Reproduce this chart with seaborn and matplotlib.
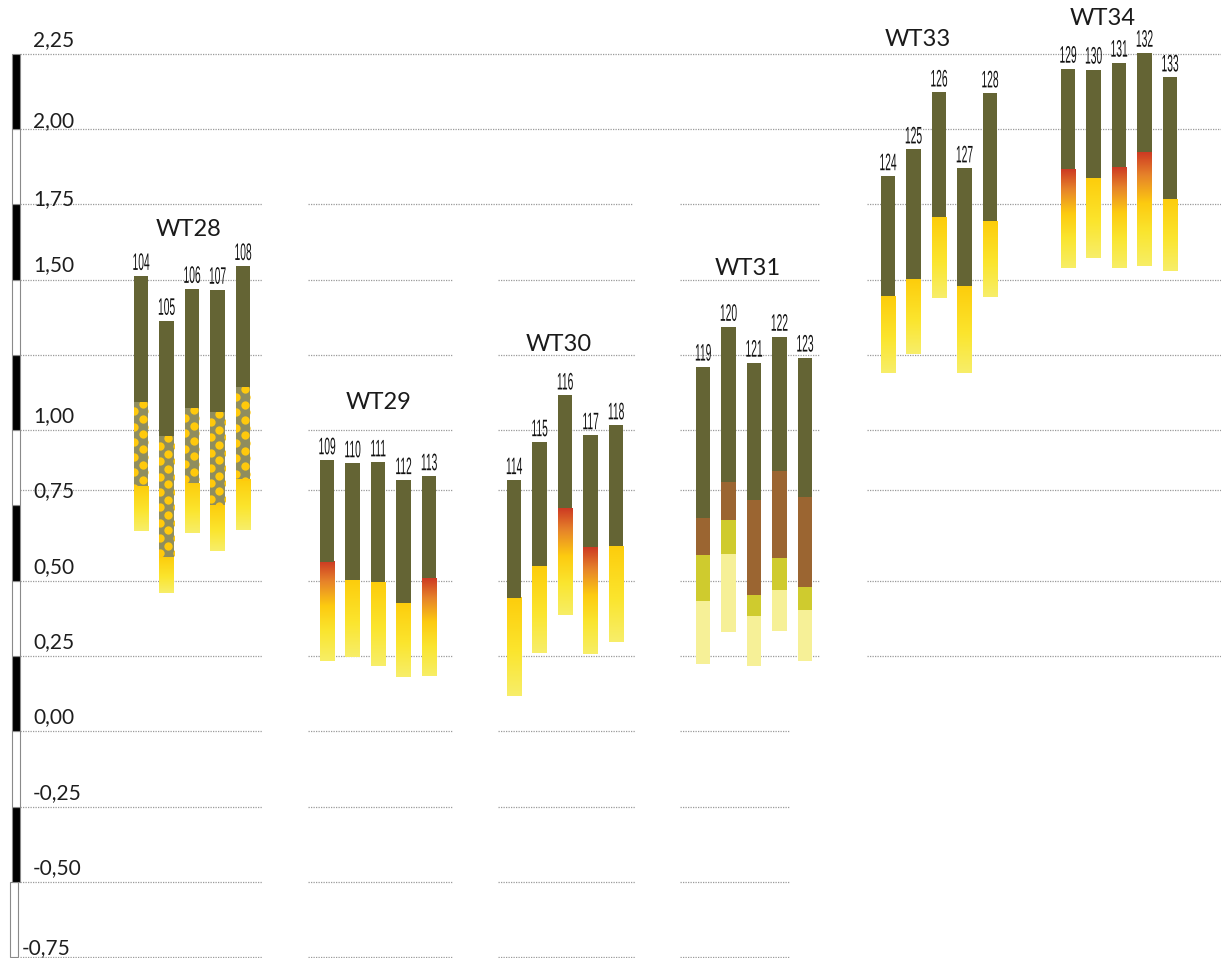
import numpy as np
import pandas as pd
import matplotlib
matplotlib.use("Agg")
import matplotlib.pyplot as plt
import seaborn as sns
from matplotlib.colors import LinearSegmentedColormap
from matplotlib.patheffects import AbstractPathEffect
from matplotlib.transforms import Affine2D

# ---------------- data ----------------
groups = ["WT28", "WT29", "WT30", "WT31", "WT33", "WT34"]
well_ids = [
    [104, 105, 106, 107, 108],
    [109, 110, 111, 112, 113],
    [114, 115, 116, 117, 118],
    [119, 120, 121, 122, 123],
    [124, 125, 126, 127, 128],
    [129, 130, 131, 132, 133],
]
# top of each column
top_level = [
    [1.512, 1.363, 1.469, 1.466, 1.545],
    [0.900, 0.890, 0.893, 0.834, 0.847],
    [0.834, 0.960, 1.115, 0.983, 1.016],
    [1.211, 1.343, 1.224, 1.310, 1.241],
    [1.843, 1.932, 2.121, 1.869, 2.118],
    [2.200, 2.197, 2.220, 2.253, 2.171],
]
# lower boundary of the dark upper layer
upper_base = [
    [1.095, 0.979, 1.072, 1.059, 1.142],
    [0.563, 0.503, 0.496, 0.427, 0.510],
    [0.443, 0.549, 0.741, 0.612, 0.615],
    [0.708, 0.827, 0.768, 0.864, 0.778],
    [1.446, 1.502, 1.707, 1.479, 1.694],
    [1.866, 1.836, 1.873, 1.923, 1.767],
]
# bottom of each column
bottom_level = [
    [0.665, 0.460, 0.659, 0.599, 0.668],
    [0.232, 0.248, 0.218, 0.179, 0.185],
    [0.116, 0.261, 0.387, 0.258, 0.298],
    [0.222, 0.331, 0.218, 0.334, 0.235],
    [1.191, 1.254, 1.439, 1.191, 1.443],
    [1.539, 1.572, 1.539, 1.545, 1.529],
]
# WT28: base of the mottled layer
mottled_base = [0.814, 0.579, 0.824, 0.751, 0.834]
# WT31: bases of the brown and green layers
brown_base = [0.586, 0.702, 0.453, 0.576, 0.480]
green_base = [0.433, 0.589, 0.384, 0.470, 0.404]
# colour ramp of the lower layer (WT29, WT30, WT33, WT34)
fade_style = {
    "WT29": ["red", "yellow", "yellow", "yellow", "red"],
    "WT30": ["yellow", "yellow", "red", "red", "yellow"],
    "WT33": ["yellow", "yellow", "yellow", "yellow", "yellow"],
    "WT34": ["red", "yellow", "red", "red", "yellow"],
}
tick_values = [2.25, 2.00, 1.75, 1.50, 1.00, 0.75, 0.50, 0.25, 0.00, -0.25, -0.50, -0.75]

# ---------------- layout / style ----------------
W, H = 1221, 958
Y_LO, Y_HI = -0.7525, 2.428
PX = H / (Y_HI - Y_LO)          # pixels per unit
GROUP_X = [192, 378, 565, 754, 939, 1119]
BAR_STEP = 25.5
BAR_W = 14.5
TITLE_POS = [(189, 1.666), (379, 1.092), (559, 1.284), (748, 1.537), (918, 2.298), (1103, 2.366)]

OLIVE = "#646434"
MOTTLE_BG = "#8f8d5e"
MOTTLE_DOT = "#ffc90c"
BROWN = "#9b6531"
GREEN = "#cfcb2e"
PALE = "#f6f097"
GRID = "#9a9a9a"

yellow_ramp = LinearSegmentedColormap.from_list(
    "yellow_ramp", [(0.0, "#f7ee6a"), (0.45, "#fbe52e"), (1.0, "#fdcd0c")])
red_ramp = LinearSegmentedColormap.from_list(
    "red_ramp", [(0.0, "#f7ee66"), (0.3, "#fae52f"), (0.55, "#fdcb10"),
                 (0.8, "#e6822a"), (1.0, "#cd3a23")])
ramps = {"yellow": yellow_ramp, "red": red_ramp}


class Reshape(AbstractPathEffect):
    """Narrow and heighten glyphs: x about the string centre, y about the baseline."""

    def __init__(self, sx, sy):
        super().__init__()
        self.sx, self.sy = sx, sy

    def draw_path(self, renderer, gc, tpath, affine, rgbFace=None):
        ext = tpath.get_extents(affine)
        cx = 0.5 * (ext.x0 + ext.x1)
        _, by = affine.transform((0, 0))
        shaped = affine + Affine2D().translate(-cx, -by).scale(self.sx, self.sy).translate(cx, by)
        renderer.draw_path(gc, tpath, shaped, rgbFace)


sns.set_theme(style="white")
plt.rcParams["font.family"] = ["Lato", "DejaVu Sans"]

fig = plt.figure(figsize=(W / 100, H / 100), dpi=100)
ax = fig.add_axes([0, 0, 1, 1])

# ---------------- table of columns ----------------
rows = []
for g, name in enumerate(groups):
    for i, wid in enumerate(well_ids[g]):
        rows.append(dict(group=name, gi=g, idx=i, well=wid,
                         x=GROUP_X[g] + (i - 2) * BAR_STEP,
                         top=top_level[g][i], upper_base=upper_base[g][i],
                         bottom=bottom_level[g][i]))
df = pd.DataFrame(rows).sort_values("x").reset_index(drop=True)
df["upper_h"] = df["top"] - df["upper_base"]

# dark upper layer of every column
sns.barplot(data=df, x="x", y="upper_h", native_scale=True,
            width=BAR_W / BAR_STEP, color=OLIVE, saturation=1, errorbar=None,
            bottom=df["upper_base"].to_numpy(), linewidth=0, zorder=3, ax=ax)

grad = np.linspace(0, 1, 256).reshape(-1, 1)


def ramp_segment(x, lo, hi, cmap):
    ax.imshow(grad, extent=(x - BAR_W / 2, x + BAR_W / 2, lo, hi), origin="lower",
              aspect="auto", cmap=cmap, interpolation="bilinear", zorder=2)


dot_dx = 8.7
dot_dy = 15.3 / PX
for _, r in df.iterrows():
    x = r["x"]
    if r["group"] == "WT28":
        mb = mottled_base[r["idx"]]
        cont = ax.bar(x, r["upper_base"] - mb, bottom=mb, width=BAR_W,
                      color=MOTTLE_BG, linewidth=0, zorder=2)
        rect = cont.patches[0]
        xs, ys = [], []
        left = x - BAR_W / 2
        for k in range(3):
            cx = left + 0.5 + k * dot_dx
            start = r["upper_base"] - (9.7 if k % 2 == 0 else 2.0) / PX
            yy = start
            while yy > mb - 5 / PX:
                xs.append(cx)
                ys.append(yy)
                yy -= dot_dy
        sc = ax.scatter(xs, ys, s=36, color=MOTTLE_DOT, linewidths=0, zorder=2.5)
        sc.set_clip_path(rect)
        ramp_segment(x, r["bottom"], mb, yellow_ramp)
    elif r["group"] == "WT31":
        i = r["idx"]
        ax.bar(x, r["upper_base"] - brown_base[i], bottom=brown_base[i], width=BAR_W,
               color=BROWN, linewidth=0, zorder=2)
        ax.bar(x, brown_base[i] - green_base[i], bottom=green_base[i], width=BAR_W,
               color=GREEN, linewidth=0, zorder=2)
        ax.bar(x, green_base[i] - r["bottom"], bottom=r["bottom"], width=BAR_W,
               color=PALE, linewidth=0, zorder=2)
    else:
        style = fade_style[r["group"]][r["idx"]]
        ramp_segment(x, r["bottom"], r["upper_base"], ramps[style])

    # well number above each column, set in a tall narrow cut
    ax.text(x, r["top"] + 6 / PX, str(r["well"]), ha="center", va="baseline",
            fontsize=10, family=["Liberation Sans", "DejaVu Sans"], color="#111111",
            path_effects=[Reshape(0.74, 1.72)], zorder=5)

# group titles
for name, (tx, ty) in zip(groups, TITLE_POS):
    ax.text(tx, ty, name, ha="center", va="center", fontsize=17, color="#1a1a1a")

# dotted reference lines, broken between groups
full = [(20, 1221)]
split = [(20, 262), (308, 452), (498, 635), (680, 820), (867, 1221)]
low = [(20, 262), (308, 452), (498, 635), (680, 790)]
grid_rows = [
    (2.25, full), (2.00, full),
    (1.75, [(20, 262), (308, 633), (680, 820), (867, 1221)]),
    (1.50, split), (1.25, split), (1.00, split), (0.80, split), (0.50, split),
    (0.25, split), (0.00, low), (-0.25, low), (-0.50, low), (-0.75, low),
]
for val, segs in grid_rows:
    for x0, x1 in segs:
        ax.plot([x0, x1], [val, val], color=GRID, lw=0.9, ls=(0, (1, 1)), zorder=1)

# value labels
label_shift = {2.00: 2, 1.75: -1, -0.75: 3}
for v in tick_values:
    dy = label_shift.get(v, 8)
    lx = 22 if v == -0.75 else 33
    ax.text(lx, v + dy / PX, f"{v:.2f}".replace(".", ","), ha="left", va="baseline",
            fontsize=15, color="#1e1e1e")

# alternating scale bar
for k in range(12):
    lo = -0.75 + 0.25 * k
    cx = 14 if k == 0 else 16
    ax.bar(cx, 0.25, bottom=lo, width=7.5, color="black" if k % 2 else "white",
           edgecolor="#8a8a8a", linewidth=0.8, zorder=2)

ax.set_xlim(0, W)
ax.set_ylim(Y_LO, Y_HI)
ax.set_axis_off()
fig.savefig("out.png", dpi=100, facecolor="white")
